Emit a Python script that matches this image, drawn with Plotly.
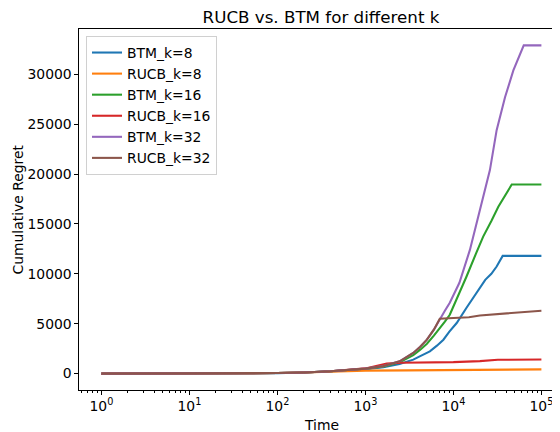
import plotly.graph_objects as go

# ---------------- data ----------------
time_btm8 = [1, 10, 100, 200, 400, 1000, 1600, 2450, 3500, 4200, 5400, 6500, 7700, 9000, 10900, 14100, 18400, 23000, 27000, 31000, 36300, 100000]
regret_btm8 = [0, 5, 50, 110, 220, 450, 640, 950, 1400, 1750, 2230, 2800, 3400, 4200, 5070, 6600, 8070, 9400, 10000, 10730, 11800, 11800]

time_rucb8 = [1, 10, 100, 200, 300, 400, 600, 1000, 3000, 10000, 30000, 100000]
regret_rucb8 = [0, 5, 55, 115, 180, 230, 280, 300, 320, 340, 380, 420]

time_btm16 = [1, 10, 100, 200, 400, 1000, 1600, 2450, 3500, 4200, 5000, 6000, 7000, 8000, 9100, 11000, 14100, 18000, 21800, 27000, 32400, 46000, 100000]
regret_btm16 = [0, 5, 55, 115, 230, 480, 700, 1130, 1850, 2400, 3000, 3800, 4500, 5200, 5900, 7500, 9730, 12000, 13730, 15300, 16730, 18950, 18950]

time_rucb16 = [1, 10, 100, 200, 400, 1000, 1300, 1750, 2500, 5000, 10000, 20000, 30000, 32000, 100000]
regret_rucb16 = [0, 5, 55, 115, 230, 520, 720, 1000, 1080, 1110, 1150, 1250, 1320, 1380, 1420]

time_btm32 = [1, 10, 100, 200, 400, 1000, 1600, 2450, 3500, 4200, 5000, 6000, 7000, 8000, 9100, 11700, 15400, 20000, 26000, 31000, 38600, 48000, 63000, 100000]
regret_btm32 = [0, 5, 55, 115, 230, 500, 750, 1230, 2070, 2700, 3400, 4400, 5500, 6300, 7100, 9100, 12400, 16400, 20400, 24400, 27700, 30400, 32900, 32900]

time_rucb32 = [1, 10, 100, 200, 400, 1000, 1600, 2450, 3500, 4200, 5000, 6000, 7000, 10000, 15000, 20000, 30000, 48000, 70000, 100000]
regret_rucb32 = [0, 5, 55, 115, 230, 500, 750, 1230, 2070, 2700, 3400, 4400, 5500, 5580, 5650, 5830, 5950, 6070, 6150, 6300]

series_names = ["BTM_k=8", "RUCB_k=8", "BTM_k=16", "RUCB_k=16", "BTM_k=32", "RUCB_k=32"]
x_tick_values = [1, 10, 100, 1000, 10000, 100000]
x_tick_labels = ["10<sup>0</sup>", "10<sup>1</sup>", "10<sup>2</sup>", "10<sup>3</sup>", "10<sup>4</sup>", "10<sup>5</sup>"]
y_tick_values = [0, 5000, 10000, 15000, 20000, 25000, 30000]

# ---------------- figure ----------------
colors = ["#1f77b4", "#ff7f0e", "#2ca02c", "#d62728", "#9467bd", "#8c564b"]
xs = [time_btm8, time_rucb8, time_btm16, time_rucb16, time_btm32, time_rucb32]
ys = [regret_btm8, regret_rucb8, regret_btm16, regret_rucb16, regret_btm32, regret_rucb32]

FONT = "DejaVu Sans"
fig = go.Figure()
for name, x, y, c in zip(series_names, xs, ys, colors):
    fig.add_trace(go.Scatter(x=x, y=y, mode="lines", name=name,
                             line=dict(color=c, width=2.08)))

all_y = [v for s in ys for v in s]
ymin, ymax = min(all_y), max(all_y)
pad = 0.05 * (ymax - ymin)

minor_vals = [m * 10 ** e for e in range(-1, 6) for m in range(2, 10)]

# the page body has an 8px margin, so the figure is drawn 8px right/down
OFF = 8
W, H = 560 - OFF, 432 - OFF
ML, MR, MT, MB = 79 - OFF, 0, 29 - OFF, 42
PW, PH = W - ML - MR, H - MT - MB

fig.update_layout(
    width=W, height=H,
    margin=dict(l=ML, r=MR, t=MT, b=MB, autoexpand=False),
    paper_bgcolor="white", plot_bgcolor="white",
    font=dict(family=FONT, size=13.9, color="black"),
    title=dict(text="RUCB vs. BTM for different k", x=(321 - 79) / PW, xref="paper",
               xanchor="center", y=1 - (17.5 - OFF) / H, yanchor="middle", yref="container",
               font=dict(size=16.7, family=FONT, color="black")),
    showlegend=True,
    legend=dict(x=7 / PW, y=1 - 7 / PH, xanchor="left", yanchor="top",
                bgcolor="rgba(255,255,255,0.8)", bordercolor="#d0d0d0", borderwidth=1,
                font=dict(size=13.9, family=FONT, color="black"),
                tracegroupgap=0, itemwidth=30),
    annotations=[
        dict(text="Time", xref="paper", yref="paper", x=(321 - 79) / PW, y=-(425 - 390) / PH,
             xanchor="center", yanchor="middle", showarrow=False,
             font=dict(size=13.9, family=FONT, color="black")),
        dict(text="Cumulative Regret", xref="paper", yref="paper", x=(17 - 79) / PW, y=0.5,
             xanchor="center", yanchor="middle", showarrow=False, textangle=-90,
             font=dict(size=13.9, family=FONT, color="black")),
    ],
)
fig.update_xaxes(
    type="log", range=[-0.2545, 5.2114], automargin=False,
    showgrid=False, zeroline=False,
    showline=True, linecolor="black", linewidth=1.1, mirror=True,
    ticks="outside", ticklen=3.5, tickwidth=1.1, tickcolor="black",
    tickvals=x_tick_values, ticktext=x_tick_labels,
    minor=dict(tickvals=minor_vals, ticks="outside", ticklen=2, tickwidth=0.8, tickcolor="black", showgrid=False),
)
fig.update_yaxes(
    range=[ymin - pad, ymax + pad], automargin=False,
    showgrid=False, zeroline=False,
    showline=True, linecolor="black", linewidth=1.1, mirror=False,
    ticks="outside", ticklen=3.5, tickwidth=1.1, tickcolor="black",
    tickvals=y_tick_values, tickformat="d",
)

fig.write_html("out.html")
